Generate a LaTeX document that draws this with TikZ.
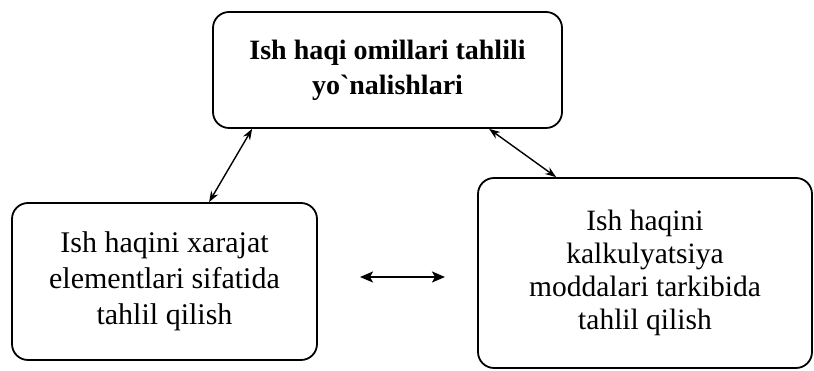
\documentclass[tikz,border=0pt]{standalone}
\usepackage{fontspec}
\setmainfont{Liberation Serif}
\usetikzlibrary{arrows.meta,calc}
\begin{document}
\begin{tikzpicture}[x=1pt,y=1pt,
  box/.style={draw, line width=1.8pt, rounded corners=16pt, align=center, inner sep=0pt},
  link/.style={{Stealth[length=11pt,width=8pt]}-{Stealth[length=11pt,width=8pt]}, line width=1.4pt},
  hlink/.style={{Stealth[length=13pt,width=11pt,inset=3pt]}-{Stealth[length=13pt,width=11pt,inset=3pt]}, line width=1.8pt}]
\useasboundingbox (0,0) rectangle (814,371);
\node[box, minimum width=349pt, minimum height=116pt, font=\fontsize{28}{35}\selectfont\bfseries] (top) at (387.5,301) {Ish haqi omillari tahlili\\yo\textasciigrave nalishlari};
\node[box, minimum width=305pt, minimum height=157pt, font=\fontsize{30}{36}\selectfont] (left) at (164.5,89.5) {Ish haqini xarajat\\elementlari sifatida\\tahlil qilish};
\node[box, minimum width=334pt, minimum height=190pt, font=\fontsize{29.5}{33}\selectfont] (right) at (645,98) {Ish haqini\\kalkulyatsiya\\moddalari tarkibida\\tahlil qilish};
\draw[link] ([xshift=40pt]top.south west) -- ([xshift=198pt]left.north west);
\draw[link] ([xshift=277pt]top.south west) -- ([xshift=79pt]right.north west);
\coordinate (ha) at (360,94);
\coordinate (hb) at (445,94);
\draw[hlink] (ha) -- (hb);
\end{tikzpicture}
\end{document}
